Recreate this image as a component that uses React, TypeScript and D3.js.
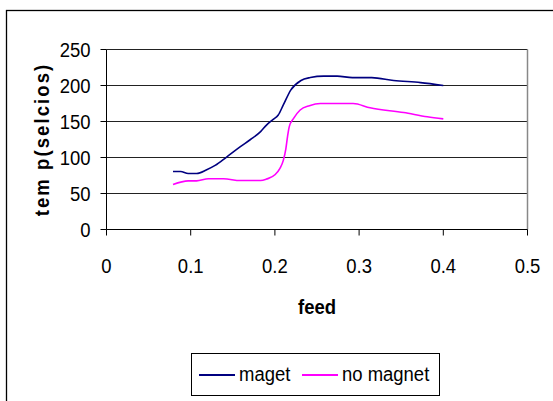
import React from "react";
import * as d3 from "d3";

// feed values and temperatures
const magetFeed = [0.079, 0.088, 0.097, 0.107, 0.119, 0.129, 0.143, 0.159, 0.171, 0.183, 0.19, 0.198, 0.204, 0.21, 0.219, 0.231, 0.242, 0.258, 0.274, 0.292, 0.315, 0.341, 0.373, 0.4];
const magetTemp = [80.6, 80.6, 77.8, 77.8, 83, 89, 101, 115, 125, 136, 145, 153, 159, 173, 194, 207, 211, 213, 213, 211, 211, 207, 204, 200];

const noMagnetFeed = [0.079, 0.097, 0.107, 0.121, 0.139, 0.159, 0.183, 0.19, 0.2, 0.206, 0.21, 0.213, 0.215, 0.217, 0.222, 0.23, 0.241, 0.254, 0.293, 0.313, 0.353, 0.381, 0.4];
const noMagnetTemp = [62.5, 67.6, 67.6, 70.4, 70.4, 68, 68, 70, 76, 85, 96, 112, 129, 142.6, 154, 166, 172, 175, 175, 169, 162.5, 156.5, 153.7];

const xTicks = [0, 0.1, 0.2, 0.3, 0.4, 0.5];
const yTicks = [0, 50, 100, 150, 200, 250];

const seriesNames = ["maget", "no magnet"];
const seriesColors = ["#000080", "#ff00ff"];

const W = 553;
const H = 401;
const plot = { left: 106.5, right: 527.5, top: 49.5, bottom: 229.5 };
const font = "'Liberation Sans', Arial, sans-serif";

// the original glyphs are a bit taller than they are wide
const Txt = ({ x, y, anchor = "start", bold = false, rotate = 0, spacing = 0, children }: any) => (
  <g transform={`translate(${x},${y}) rotate(${rotate}) scale(0.88,1)`}>
    <text
      textAnchor={anchor}
      dy="0.35em"
      fontFamily={font}
      fontSize={21}
      fontWeight={bold ? "bold" : "normal"}
      letterSpacing={spacing}
    >
      {children}
    </text>
  </g>
);

export default function App() {
  const x = d3.scaleLinear().domain([0, 0.5]).range([plot.left, plot.right]);
  const y = d3.scaleLinear().domain([0, 250]).range([plot.bottom, plot.top]);

  const line = d3
    .line<[number, number]>()
    .x((d) => x(d[0]))
    .y((d) => y(d[1]))
    .curve(d3.curveMonotoneX);

  const series = [
    magetFeed.map((f, i) => [f, magetTemp[i]] as [number, number]),
    noMagnetFeed.map((f, i) => [f, noMagnetTemp[i]] as [number, number]),
  ];

  return (
    <svg
      width={W}
      height={H}
      style={{ position: "fixed", left: 0, top: 0, background: "#fff" }}
    >
      {/* chart area border, runs off the right/bottom of the picture */}
      <rect x={6.5} y={10.5} width={560} height={420} fill="#fff" stroke="#000" strokeWidth={1.3} />

      {/* grid */}
      {yTicks.slice(1).map((t) => (
        <line key={t} x1={plot.left} x2={plot.right} y1={y(t)} y2={y(t)} stroke="#222" strokeWidth={1} />
      ))}
      <line x1={plot.right} x2={plot.right} y1={plot.top} y2={plot.bottom} stroke="#888" strokeWidth={1.5} />

      {/* axes */}
      <line x1={plot.left} x2={plot.left} y1={plot.top} y2={plot.bottom} stroke="#000" strokeWidth={1} />
      <line x1={plot.left} x2={plot.right} y1={plot.bottom} y2={plot.bottom} stroke="#000" strokeWidth={1} />
      {yTicks.map((t) => (
        <g key={t}>
          <line x1={plot.left - 6} x2={plot.left} y1={y(t)} y2={y(t)} stroke="#000" />
          <Txt x={plot.left - 16} y={y(t)} anchor="end">
            {t}
          </Txt>
        </g>
      ))}
      {xTicks.map((t) => (
        <g key={t}>
          <line x1={x(t)} x2={x(t)} y1={plot.bottom} y2={plot.bottom + 6} stroke="#000" />
          <Txt x={x(t)} y={265.5} anchor="middle">
            {t}
          </Txt>
        </g>
      ))}

      {/* titles */}
      <Txt x={(plot.left + plot.right) / 2} y={307} anchor="middle" bold>
        feed
      </Txt>
      <Txt x={42} y={(plot.top + plot.bottom) / 2} anchor="middle" bold rotate={-90} spacing={2.4}>
        tem p(selcios)
      </Txt>

      {/* series */}
      {series.map((s, i) => (
        <path key={i} d={line(s) || ""} fill="none" stroke={seriesColors[i]} strokeWidth={1.6} />
      ))}

      {/* legend */}
      <rect x={191.5} y={353.5} width={248} height={42} fill="#fff" stroke="#000" strokeWidth={1} />
      {seriesNames.map((name, i) => {
        const lx = i === 0 ? 199 : 302;
        return (
          <g key={name}>
            <line x1={lx} x2={lx + 36} y1={375} y2={375} stroke={seriesColors[i]} strokeWidth={2} />
            <Txt x={lx + 40} y={374}>
              {name}
            </Txt>
          </g>
        );
      })}
    </svg>
  );
}
